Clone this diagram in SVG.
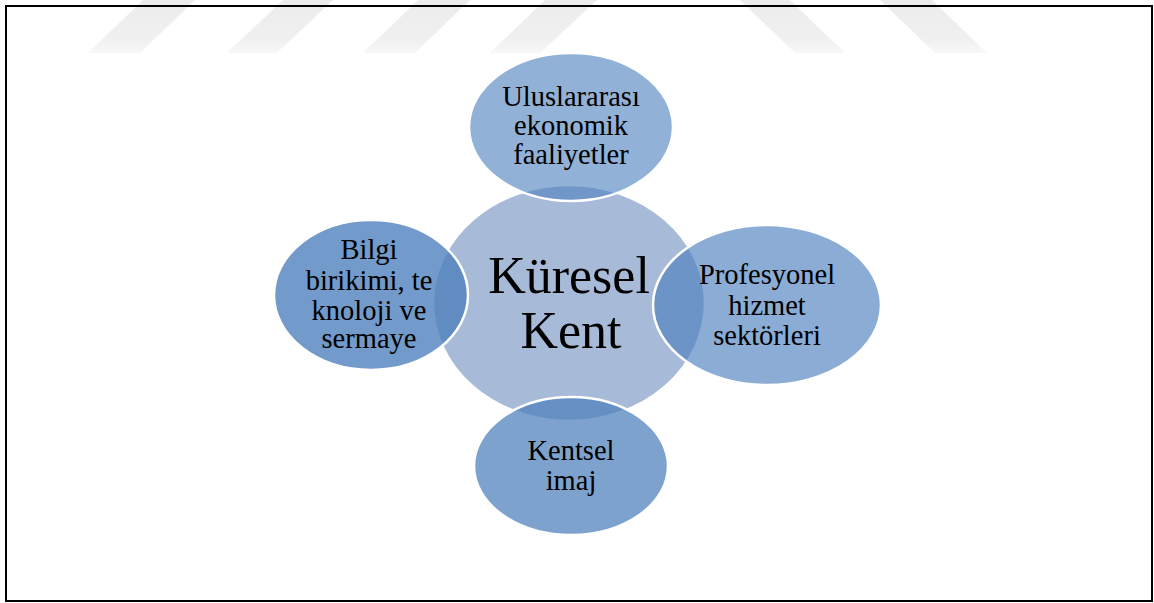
<svg xmlns="http://www.w3.org/2000/svg" width="1154" height="603" viewBox="0 0 1154 603">
  <defs>
    <linearGradient id="wm" x1="0" y1="0" x2="0" y2="1">
      <stop offset="0" stop-color="#ececec"/>
      <stop offset="0.75" stop-color="#f0f0f0"/>
      <stop offset="1" stop-color="#f8f8f8"/>
    </linearGradient>
    <style>
      .wm { fill: url(#wm); }
      .sat { fill: #4f81bd; stroke: #ffffff; stroke-width: 2.5; }
      .t { font-family: "Liberation Serif", "Times New Roman", serif; font-size: 28.5px; fill: #000; text-anchor: middle; }
      .big { font-family: "Liberation Serif", "Times New Roman", serif; font-size: 52px; fill: #000; text-anchor: middle; }
    </style>
  </defs>
  <rect x="0" y="0" width="1154" height="603" fill="#ffffff"/>
  <g id="watermark">
    <polygon class="wm" points="143,0 195,0 140,53 88,53"/>
    <polygon class="wm" points="283,0 333,0 277,53 227,53"/>
    <polygon class="wm" points="418,0 470,0 415,53 363,53"/>
    <polygon class="wm" points="545,0 597,0 540,53 490,53"/>
    <polygon class="wm" points="740,0 790,0 845,53 795,53"/>
    <polygon class="wm" points="880,0 932,0 987,53 935,53"/>
  </g>
  <rect id="frame" x="6" y="6" width="1146" height="595" fill="none" stroke="#000000" stroke-width="2"/>
  <g id="connectors"></g>
  <g id="center">
    <ellipse cx="569" cy="303" rx="136" ry="118" fill="#a7bad8" stroke="#ffffff" stroke-width="2.5"/>
  </g>
  <g id="top">
    <ellipse class="sat" cx="571" cy="127" rx="102" ry="74" fill-opacity="0.62"/>
    <text class="t" x="571" y="106">Uluslararası</text>
    <text class="t" x="571" y="135">ekonomik</text>
    <text class="t" x="571" y="164">faaliyetler</text>
  </g>
  <g id="right">
    <ellipse class="sat" cx="767" cy="305" rx="114" ry="80" fill-opacity="0.66"/>
    <text class="t" x="767" y="284">Profesyonel</text>
    <text class="t" x="767" y="315">hizmet</text>
    <text class="t" x="767" y="345">sektörleri</text>
  </g>
  <g id="bottom">
    <ellipse class="sat" cx="571" cy="466" rx="97" ry="69" fill-opacity="0.74"/>
    <text class="t" x="571" y="460">Kentsel</text>
    <text class="t" x="571" y="490">imaj</text>
  </g>
  <g id="left">
    <ellipse class="sat" cx="371" cy="295" rx="97" ry="75" fill-opacity="0.8"/>
    <text class="t" x="369" y="259">Bilgi</text>
    <text class="t" x="369" y="290">birikimi, te</text>
    <text class="t" x="369" y="320">knoloji ve</text>
    <text class="t" x="369" y="348">sermaye</text>
  </g>
  <g id="center-label">
    <text class="big" x="569" y="293">Küresel</text>
    <text class="big" x="571" y="348">Kent</text>
  </g>
</svg>
